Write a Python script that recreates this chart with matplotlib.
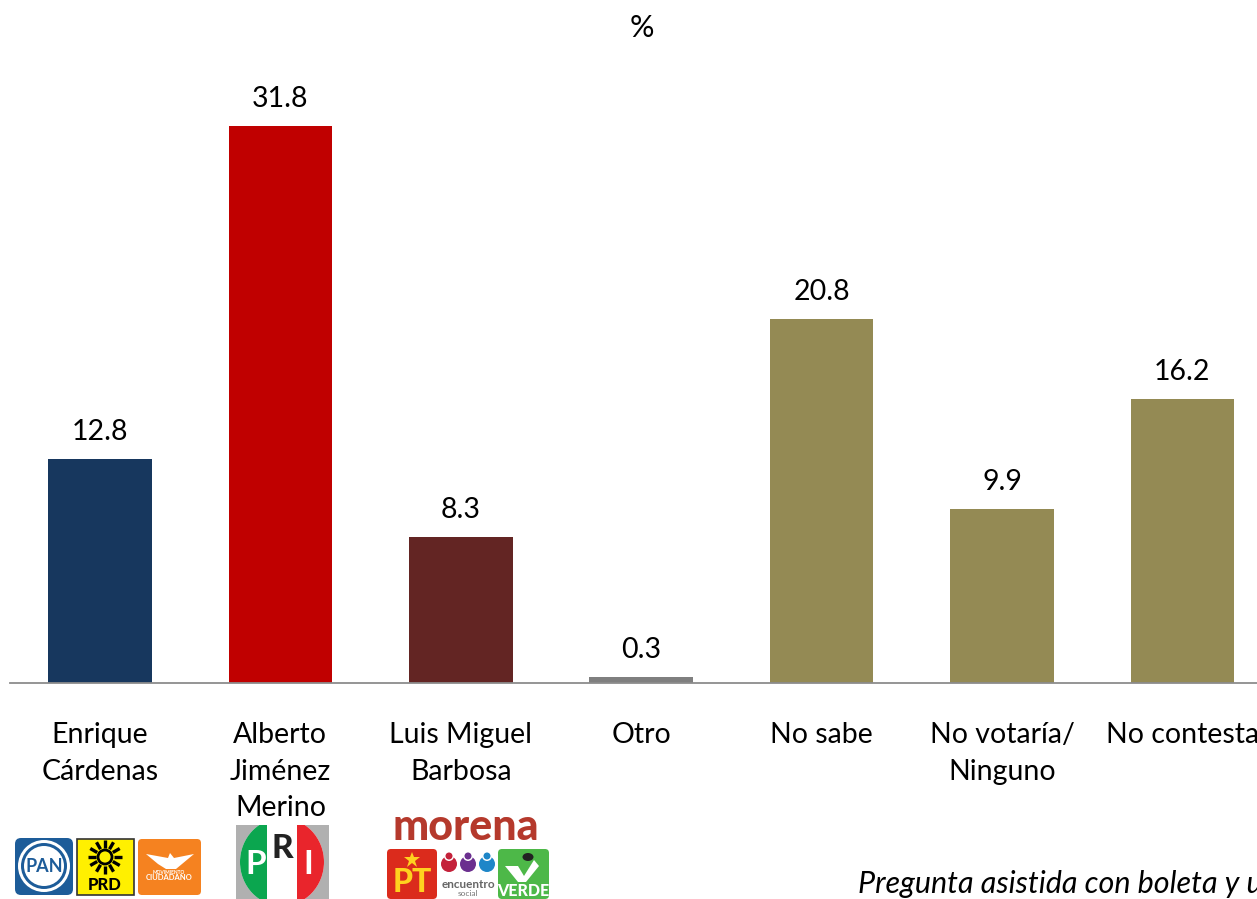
#!/usr/bin/env python
import numpy as np
import matplotlib
matplotlib.use('Agg')
import matplotlib.pyplot as plt
from matplotlib.patches import Circle, Ellipse, Polygon, Rectangle, FancyBboxPatch

plt.rcParams['font.family'] = ['Lato', 'DejaVu Sans']

categories = ['Enrique\nCárdenas', 'Alberto\nJiménez\nMerino', 'Luis Miguel\nBarbosa', 'Otro',
              'No sabe', 'No votaría/\nNinguno', 'No contesta']
values = [12.8, 31.8, 8.3, 0.3, 20.8, 9.9, 16.2]
colors = ['#17375E', '#C00000', '#632523', '#7F7F7F', '#948A54', '#948A54', '#948A54']
note = 'Pregunta asistida con boleta y urna'

W, H = 1257, 899
fig = plt.figure(figsize=(W / 100, H / 100), dpi=100)

# chart axes, the baseline sits at y=682.5 px and the left end of the axis at x=10 px
base = 682.5
ax = fig.add_axes([10 / W, 1 - base / H, (W - 10) / W, base / H])
step = 180.4
ax.set_xlim((10 - 100) / step, (W - 100) / step)
ax.set_ylim(0, base / 17.5)
ax.set_facecolor('none')
for s in ['top', 'left', 'right']:
    ax.spines[s].set_visible(False)
ax.spines['bottom'].set_color('#8C8C8C')
ax.spines['bottom'].set_linewidth(1.3)
ax.set_yticks([])

bars = ax.bar(range(len(values)), values, width=0.575, color=colors, zorder=2)
ax.bar_label(bars, labels=[str(v) for v in values], padding=10, fontsize=20.5, color='black')
ax.set_xticks(range(len(values)))
ax.set_xticklabels(categories, fontsize=20.5, color='black', linespacing=1.5)
ax.tick_params(axis='x', length=0, pad=28.5)

# overlay in pixels for the title, the note and the party logos
ov = fig.add_axes([0, 0, 1, 1])
ov.set_xlim(0, W)
ov.set_ylim(H, 0)
ov.axis('off')
ov.patch.set_alpha(0)

ov.text(642, 28, '%', ha='center', va='center', fontsize=22, color='black')
ov.text(858, 884, note, ha='left', va='center', fontsize=22, style='italic', color='black')

# PAN
ov.add_patch(FancyBboxPatch((15, 838), 58, 57, boxstyle='round,pad=0,rounding_size=6', fc='#1D5C99', ec='none'))
ov.add_patch(Circle((44, 866), 26, fc='white', ec='none'))
ov.add_patch(Circle((44, 866), 23, fc='#1D5C99', ec='none'))
ov.add_patch(Circle((44, 866), 20, fc='white', ec='none'))
ov.text(44, 866, 'PAN', ha='center', va='center', fontsize=13, weight='bold', color='#1D5C99')

# PRD
ov.add_patch(Rectangle((77, 839), 57, 56, fc='#FFF000', ec='#333333', lw=1.2))
sun_angles = np.deg2rad(np.arange(0, 360, 30))
for a in sun_angles:
    ov.plot([105 + 9 * np.cos(a), 105 + 17 * np.cos(a)], [857 + 9 * np.sin(a), 857 + 17 * np.sin(a)],
            color='black', lw=2.4, solid_capstyle='butt')
ov.add_patch(Circle((105, 857), 7, fc='#FFF000', ec='black', lw=2))
ov.text(105, 885, 'PRD', ha='center', va='center', fontsize=12, weight='black', color='black')

# Movimiento Ciudadano
ov.add_patch(FancyBboxPatch((138, 839), 63, 56, boxstyle='round,pad=0,rounding_size=4', fc='#F58220', ec='none'))
ov.add_patch(Polygon([(146, 854), (168, 858), (170, 853), (174, 858), (194, 854), (182, 864), (176, 869),
                      (166, 869), (158, 864)], fc='white', ec='none'))
ov.text(169, 872, 'MOVIMIENTO', ha='center', va='center', fontsize=3.5, weight='bold', color='white')
ov.text(169, 878, 'CIUDADANO', ha='center', va='center', fontsize=5.5, weight='bold', color='white')

# PRI
ov.add_patch(Rectangle((236, 825), 93, 74, fc='#B0B0B0', ec='none'))
disc = Ellipse((282, 862), 84, 88, fc='white', ec='none')
ov.add_patch(disc)
green = Rectangle((236, 825), 31, 74, fc='#0BA64F', ec='none')
red = Rectangle((297, 825), 32, 74, fc='#E9252C', ec='none')
ov.add_patch(green)
ov.add_patch(red)
green.set_clip_path(disc)
red.set_clip_path(disc)
ov.text(256, 864, 'P', ha='center', va='center', fontsize=24, weight='bold', color='white')
ov.text(282, 848, 'R', ha='center', va='center', fontsize=24, weight='black', color='#222222')
ov.text(308, 864, 'I', ha='center', va='center', fontsize=24, weight='bold', color='white')

# morena, PT, encuentro social, Verde
ov.text(466, 827, 'morena', ha='center', va='center', fontsize=31, weight='black', color='#B5392C')
ov.add_patch(FancyBboxPatch((387, 849), 50, 50, boxstyle='round,pad=0,rounding_size=4', fc='#DB2B1C', ec='none'))
ov.plot([412], [860], marker='*', ms=12, color='#FFD21F', mew=0)
ov.text(412, 882, 'PT', ha='center', va='center', fontsize=23, weight='black', color='#FFD21F')
for cx, cc in zip([449, 468, 487], ['#C4213A', '#6B2F8F', '#1E86C8']):
    ov.add_patch(Circle((cx, 864), 8, fc=cc, ec='none'))
    ov.add_patch(Circle((cx, 856), 5, fc='white', ec='none'))
    ov.add_patch(Circle((cx, 856), 3.5, fc=cc, ec='none'))
ov.text(468, 884, 'encuentro', ha='center', va='center', fontsize=8.5, weight='bold', color='#666666')
ov.text(468, 894, 'social', ha='center', va='center', fontsize=6, color='#777777')
ov.add_patch(FancyBboxPatch((498, 849), 51, 50, boxstyle='round,pad=0,rounding_size=4', fc='#4DB848', ec='none'))
ov.add_patch(Polygon([(505, 866), (518, 866), (524, 876), (534, 860), (539, 866), (526, 882), (518, 882)],
                     fc='white', ec='none'))
ov.add_patch(Ellipse((528, 857), 11, 8, fc='#222222', ec='none'))
ov.text(523, 891, 'VERDE', ha='center', va='center', fontsize=11.5, weight='black', color='white')

fig.savefig('out.png', dpi=100)
